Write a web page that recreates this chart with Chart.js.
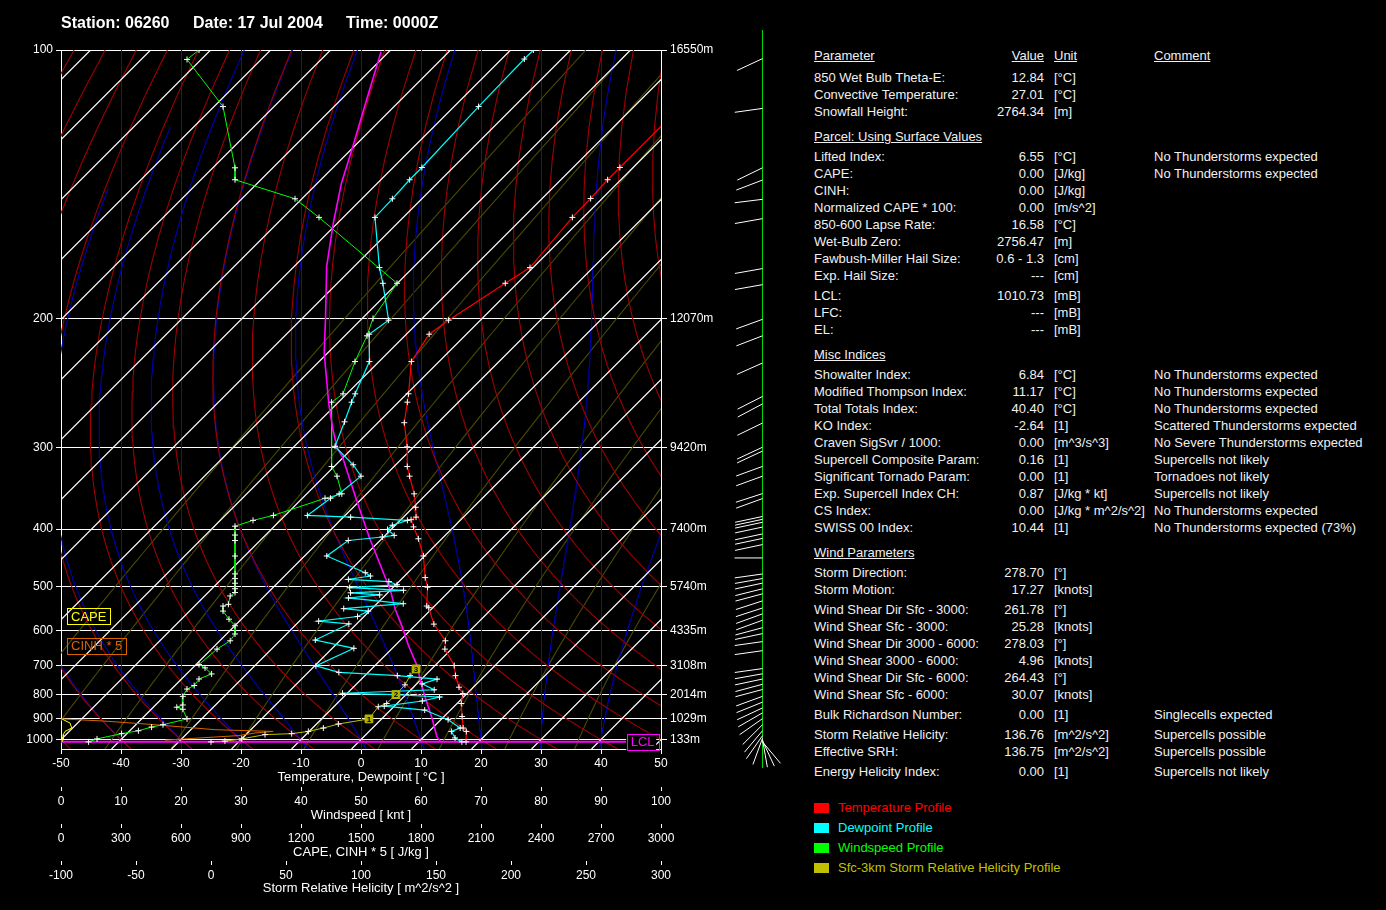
<!DOCTYPE html>
<html>
<head>
<meta charset="utf-8">
<script src="https://cdn.jsdelivr.net/npm/chart.js@4.4.0/dist/chart.umd.min.js"></script>
<style>
  body { margin: 0; background: #000; width: 1386px; height: 910px; overflow: hidden;
         font-family: "Liberation Sans", Arial, sans-serif; color: #f0f0f0; }
  #skewt { position: absolute; left: 0; top: 0; }
  .t { position: absolute; white-space: nowrap; font-size: 13px; line-height: 15px; }
  .hd { position: absolute; top: 14px; font-weight: bold; font-size: 16px; color: #fff; white-space: nowrap; }
  .u { text-decoration: underline; }
  .sw { position: absolute; width: 15px; height: 10px; }
</style>
</head>
<body>
<canvas id="skewt" width="800" height="910"></canvas>
<div class="hd" style="left:61px">Station: 06260</div>
<div class="hd" style="left:193px">Date: 17 Jul 2004</div>
<div class="hd" style="left:346px">Time: 0000Z</div>
<div id="side"></div>
<script>
// standard pressure levels [hPa] and their heights
const levels = [100, 200, 300, 400, 500, 600, 700, 800, 900, 1000];
const levelHeights = ['16550m', '12070m', '9420m', '7400m', '5740m', '4335m', '3108m', '2014m', '1029m', '133m'];

// temperature profile [hPa, °C]
const tempP = [100, 132.7, 136.9, 143.7, 151, 173, 180.8, 201, 209.5, 227.5, 251.5, 258.3, 276, 299, 319.7, 330.6,
  351.8, 369.2, 382.7, 386.3, 396.7, 414.8, 442.9, 482, 501, 541, 544.7, 583.6, 627, 650.4, 700, 733, 773.5, 797,
  835.8, 890.3, 943, 959.3, 1012];
const tempC = [-52.2, -52.2, -52.2, -51.9, -51.8, -50.5, -52.0, -55.3, -56.2, -54.6, -49.7, -48.5, -45.6, -41.1, -37.8, -35.8,
  -32.1, -29.6, -27.9, -28.3, -26.7, -23.9, -20.2, -16.3, -14.3, -11.3, -10.7, -7.1, -2.4, -1.1, 3.2, 5.1, 7.6, 9.3,
  10.7, 13.0, 15.1, 16.2, 17.9];

// dewpoint profile [hPa, °C]
const dewP = [100, 102.1, 114.2, 132.7, 136.9, 143.8, 151, 173, 180.8, 201,
  209.5, 227.5, 251.5, 258.3, 275.2, 298.5, 317.8, 330.6, 351.8, 357.4,
  380.3, 382.7, 387.3, 394.3, 400.5, 409.5, 412, 417.5, 442.9, 472.8,
  479, 485.5, 489.7, 496, 502, 507.3, 512.5, 516.8, 523.3, 535.8,
  546.9, 552.5, 565.1, 576.3, 583.2, 625.1, 648.1, 701, 721.9, 733,
  745, 761.5, 782.9, 795.8, 801.1, 810.2, 825.7, 846.5, 862.7, 904.5,
  943, 959.3, 991.6, 1012];
const dewC = [-86.2, -86.2, -85.9, -85.2, -85.2, -84.9, -84.7, -75.6, -72.4, -65.3,
  -66.2, -61.6, -58.6, -57.8, -55.7, -53.2, -47.1, -43.9, -44.6, -45.3,
  -46.3, -38.8, -28.8, -30.5, -30.6, -28.5, -30.2, -35.3, -36.3, -27.1,
  -25.7, -28.8, -21.7, -19.8, -27.2, -17.8, -26.2, -21.0, -25.7, -15.6,
  -24.7, -20.2, -21.1, -26.8, -21.3, -24.2, -16.4, -19.8, -14.9, -4.6,
  2.6, 0.9, 3.9, -10.8, -1.7, 6.0, 3.8, -1.7, 5.7, 11.2,
  14.6, 13.7, 15.4, 17.2];

// windspeed profile [hPa, knots]
const windP = [100, 102.2, 114.2, 132.8, 136.9, 143.8, 151, 180.8, 200,
  210.5, 227.5, 251.5, 258.3, 319.7, 330.6, 351.8, 357.4, 380.3, 387.3,
  395.7, 409, 417.5, 443, 475, 484, 493, 504, 511.9, 519,
  537.2, 541, 552.5, 571.6, 587.7, 608.8, 627, 650.4, 697, 707.4,
  727.3, 744.4, 767.5, 780.2, 807.6, 841.8, 850.9, 859.5, 901, 927.5,
  938.5, 956, 970.3, 996.5, 1012];
const windKt = [23.0, 21.0, 27.0, 29, 29, 39, 43.0, 56.0, 52.0,
  51.0, 49, 47.0, 45.1, 45.1, 46.0, 46.8, 44, 35.4, 32.0,
  29, 29, 29, 29, 29, 29, 29, 29, 29, 28.2,
  27.9, 27.0, 27.0, 28.0, 29, 29, 28.2, 26.0, 23.0, 24.0,
  25.1, 23.0, 22.2, 21.0, 20.3, 20.3, 19.3, 20.3, 21.0, 17.0,
  15.1, 12.9, 10.1, 6.0, 4.6];

// lifted parcel [hPa, °C]
const parcelP = [1010.7, 983.6, 890.3, 823, 756, 704, 641, 591.8, 548.4, 508, 412, 356, 308.4, 301, 282.5, 259.8,
  221.5, 200, 172.4, 153.3, 138.1, 125.9, 114.2, 100.4];
const parcelC = [13.6, 12.1, 7.9, 4.3, 0.4, -2.7, -7.7, -11.8, -16.0, -19.9, -32.4, -41.3, -50.4, -52.4, -56.3, -61.3,
  -70.6, -76.1, -84.6, -90.7, -96.0, -100.2, -104.9, -111.3];
const lclP = 1010.73;
const sfcLiftP = [1010.73, 1012];
const sfcLiftC = [13.6, 17.9];

// storm relative helicity (sfc - 3 km) [hPa, m^2/s^2]
const srhP = [1012, 1008, 996.5, 975, 970.3, 959.3, 943, 924.3, 901, 849, 835.8, 801, 765, 733, 710.7];
const srhVal = [0, 9.3, 20.5, 36, 53.8, 64.9, 74.9, 84.9, 105.3, 111.5, 117.1, 123.3, 129.3, 132.7, 136.7];
const srhKmP = [901, 801, 710.7];
const srhKmVal = [105.3, 123.3, 136.7];
const srhKmLabel = ['1', '2', '3'];

// CAPE and CINH*5 [hPa, J/kg]
const capeP = [901, 919.6, 943, 959.3, 975, 1000, 1012];
const capeVal = [3.5, 45, 53.5, 20, 11.5, 11.5, 5];
const cinhP = [901, 911, 927.5, 951, 959.3, 967, 980, 990, 1003];
const cinhVal = [3.5, 220, 470, 770, 1061, 970, 887, 720, 520];

// wind direction at the barb levels [hPa, deg]
const barbP = [102, 114.7, 132.8, 137, 144, 151.5, 173.5, 181.5, 200.5, 210.5,
  228.5, 253.6, 259.7, 276.3, 299.4, 303.3, 319.6, 330.6, 351.5, 357.8,
  381.8, 385.8, 390, 397, 407.3, 414.2, 424, 446.3, 475.2, 483.9,
  492.8, 504.2, 514.6, 529.6, 545.4, 558.9, 574.1, 592.6, 607.9, 629.3,
  654.9, 709.7, 726.9, 744.6, 763, 781.8, 807.6, 830.3, 853.9, 874.6,
  900, 927.5, 955.9, 980.2, 993, 1000, 1006, 1012];
const barbDir = [245, 262, 244, 249, 263, 260, 260, 260, 250, 249,
  246, 243, 242, 244, 245, 245, 250, 250, 252, 250,
  258, 258, 258, 258, 258, 258, 258, 270, 262, 260,
  258, 256, 255, 252, 252, 250, 250, 255, 258, 262,
  262, 262, 260, 258, 255, 255, 250, 248, 245, 240,
  235, 225, 220, 215, 200, 170, 155, 140];

// diagram background lines
const isoT = [-160, -150, -140, -130, -120, -110, -100, -90, -80, -70, -60, -50, -40, -30, -20, -10, 0, 10, 20, 30, 40, 50];
const dryT0 = [-60, -50, -40, -30, -20, -10, 0, 10, 20, 30, 40, 50, 60, 70, 80, 90, 100, 110, 120, 130, 140, 150, 160];
const moistT0 = [-40, -30, -20, -10, 0, 10, 20, 30, 40];
const mixW = [0.01, 0.03, 0.1, 0.3, 0.8, 2, 5, 10, 20, 40];

// ---- pressure axis: pixel position follows p^-0.35 ----
const P_EXP = 0.35, P_TOP = 100, P_BOT = 1050;
const tr = p => Math.pow(p, -P_EXP);
const dec = p => (tr(p) - tr(P_BOT)) / (tr(P_TOP) - tr(P_BOT));

class PressureScale extends Chart.Scale {
  determineDataLimits() {
    this.min = this.options.min;
    this.max = this.options.max;
  }
  buildTicks() {
    return levels.map(v => ({ value: v }));
  }
  configure() {
    super.configure();
    this._a = tr(this.max);
    this._b = tr(this.min);
  }
  getPixelForValue(v) {
    return this.getPixelForDecimal((tr(v) - this._a) / (this._b - this._a));
  }
  getValueForPixel(px) {
    return Math.pow(this._a + this.getDecimalForPixel(px) * (this._b - this._a), -1 / P_EXP);
  }
  getLabelForValue(v) { return String(v); }
}
PressureScale.id = 'pressure';
PressureScale.defaults = {};
Chart.register(PressureScale);

// skew: plot is 699 px high and 6 px per °C, isotherms run at 45° and meet the axis at 1000 hPa
const SKEW = 699 / 6;
const skewX = (t, p) => t + SKEW * (dec(p) - dec(1000));
const skewed = (ps, ts) => ps.map((p, i) => ({ x: skewX(ts[i], p), y: p }));
const plain = (ps, vs) => ps.map((p, i) => ({ x: vs[i], y: p }));

const refP = [];
for (let p = 1050; p >= 100; p -= 10) refP.push(p);

function moistLapse(T, p) {
  const tc = T - 273.15;
  const es = 6.112 * Math.exp(17.67 * tc / (tc + 243.5));
  const rs = 0.622 * es / (p - es);
  const Lv = 2.501e6, Rd = 287.04;
  return (Rd * T + Lv * rs) / (p * (1005.7 + Lv * Lv * rs * 0.622 / (Rd * T * T)));
}
function moistLine(t0) {
  let T = t0 + 273.15;
  for (let q = 1000; q < 1050; q += 5) {
    const k1 = moistLapse(T, q), k2 = moistLapse(T + k1 * 5, q + 5);
    T += (k1 + k2) / 2 * 5;
  }
  const out = [];
  for (let q = 1050; q >= 100; q -= 5) {
    if (T - 273.15 < -135) break;
    out.push({ x: skewX(T - 273.15, q), y: q });
    const k1 = moistLapse(T, q), k2 = moistLapse(T - k1 * 5, q - 5);
    T -= (k1 + k2) / 2 * 5;
  }
  return out;
}
const dryLine = t0 => refP.map(p => ({ x: skewX((t0 + 273.15) * Math.pow(p / 1000, 0.2857) - 273.15, p), y: p }));
const mixLine = w => refP.map(p => {
  const l = Math.log(w * p / (622 + w) / 6.112);
  return { x: skewX(243.5 * l / (17.67 - l), p), y: p };
});
const isoLine = t => [{ x: skewX(t, P_BOT), y: P_BOT }, { x: skewX(t, P_TOP), y: P_TOP }];

function line(data, color, width, extra) {
  return Object.assign({ data, borderColor: color, borderWidth: width, showLine: true, pointRadius: 0,
    xAxisID: 'xT', yAxisID: 'y', fill: false }, extra || {});
}
const marks = { pointRadius: 3, pointStyle: 'cross', pointBorderColor: '#fff', pointBackgroundColor: '#fff', pointBorderWidth: 1 };

const datasets = [
  { data: plain(srhKmP, srhKmVal), xAxisID: 'xH', yAxisID: 'y', showLine: false, pointStyle: 'rect',
    pointRadius: 5.5, pointBackgroundColor: '#b4b400', pointBorderColor: '#b4b400' },
  line(skewed(tempP, tempC), '#ff0000', 1.2, marks),
  line(skewed(dewP, dewC), '#00ffff', 1.2, marks),
  line(skewed(parcelP, parcelC), '#ff00ff', 1.6),
  line(plain(windP, windKt), '#00ff00', 1, Object.assign({ xAxisID: 'xW' }, marks)),
  line(plain(srhP, srhVal), '#c0c000', 1, Object.assign({ xAxisID: 'xH' }, marks)),
  line(plain(capeP, capeVal), '#ffff00', 1, { xAxisID: 'xC' }),
  line(plain(cinhP, cinhVal), '#d86400', 1, { xAxisID: 'xC' }),
  line([{ x: -50, y: lclP }, { x: 44.2, y: lclP }], '#ff00ff', 2),
  line(skewed(sfcLiftP, sfcLiftC), '#ff0000', 1),
];
isoT.forEach(t => datasets.push(line(isoLine(t), '#ffffff', 1.2)));
dryT0.forEach(t => datasets.push(line(dryLine(t), '#a00000', 1.1)));
moistT0.forEach(t => datasets.push(line(moistLine(t), '#0000b4', 1.1)));
mixW.forEach(w => datasets.push(line(mixLine(w), '#4a4a00', 1.1)));

function keyBox(ctx, text, x, y, color) {
  const w = ctx.measureText(text).width + 8;
  ctx.strokeStyle = color;
  ctx.fillStyle = color;
  ctx.lineWidth = 1;
  ctx.strokeRect(Math.round(x) + 0.5, Math.round(y - 8) + 0.5, Math.round(w), 16);
  ctx.fillText(text, x + 4, y + 0.5);
}

const overlay = {
  id: 'overlay',
  afterDatasetsDraw(chart) {
    const { ctx, chartArea: a, scales } = chart;
    ctx.save();
    ctx.font = '13px "Liberation Sans", Arial, sans-serif';
    ctx.textBaseline = 'middle';
    ctx.textAlign = 'left';
    keyBox(ctx, 'CAPE', a.left + 6, scales.y.getPixelForValue(565), '#ffff00');
    keyBox(ctx, 'CINH * 5', a.left + 6, scales.y.getPixelForValue(641), '#d86400');
    // LCL tag at the end of the LCL line
    const lx = scales.xT.getPixelForValue(44.2), ly = scales.y.getPixelForValue(lclP);
    ctx.fillStyle = '#000';
    ctx.fillRect(lx, ly - 9, 30, 18);
    keyBox(ctx, 'LCL', lx + 0.5, ly, '#ff00ff');
    // 1, 2, 3 km marks on the helicity profile
    ctx.font = 'bold 8px "Liberation Sans", Arial, sans-serif';
    ctx.textAlign = 'center';
    ctx.fillStyle = '#000';
    chart.getDatasetMeta(0).data.forEach((pt, i) => ctx.fillText(srhKmLabel[i], pt.x, pt.y + 0.5));
    ctx.restore();
  },
  afterDraw(chart) {
    const { ctx, chartArea: a, scales } = chart;
    const sx = Math.round(a.right + 101) + 0.5;
    ctx.save();
    ctx.lineWidth = 1;
    ctx.strokeStyle = '#00d800';
    ctx.beginPath();
    ctx.moveTo(sx, a.top - 20);
    ctx.lineTo(sx, a.bottom + 19);
    ctx.stroke();
    ctx.strokeStyle = '#fff';
    barbP.forEach((p, i) => {
      const py = scales.y.getPixelForValue(p), r = barbDir[i] * Math.PI / 180;
      ctx.beginPath();
      ctx.moveTo(sx, py);
      ctx.lineTo(sx + 28 * Math.sin(r), py - 28 * Math.cos(r));
      ctx.stroke();
    });
    ctx.restore();
  }
};

Chart.defaults.font.family = '"Liberation Sans", Arial, sans-serif';
Chart.defaults.font.size = 12;
Chart.defaults.color = '#fff';

function bottomAxis(min, max, step, title, weight, height, padBottom, first) {
  return {
    type: 'linear', position: 'bottom', min, max, weight,
    ticks: { stepSize: step, color: '#fff', padding: first ? 2 : 3, autoSkip: false, maxRotation: 0,
      callback: v => String(v) },
    grid: first ? { color: '#003a00', tickColor: '#fff', tickLength: 5 }
                : { drawOnChartArea: false, color: '#fff', tickLength: 4 },
    border: first ? { color: '#fff' } : { display: false },
    title: { display: true, text: title, color: '#fff', font: { size: 13 }, padding: { top: 0, bottom: padBottom } },
    afterFit: s => { s.height = height; }
  };
}

new Chart(document.getElementById('skewt'), {
  type: 'scatter',
  data: { datasets },
  options: {
    responsive: false,
    animation: false,
    events: [],
    layout: { padding: { top: 50, bottom: 12, left: 0, right: 0 } },
    plugins: { legend: { display: false }, tooltip: { enabled: false } },
    scales: {
      y: {
        type: 'pressure', position: 'left', min: P_TOP, max: P_BOT,
        grid: { color: '#fff', tickLength: 5 },
        border: { color: '#fff' },
        ticks: { color: '#fff', padding: 3, autoSkip: false, callback: v => String(v) },
        afterFit: s => { s.width = 61; }
      },
      yR: {
        type: 'pressure', position: 'right', min: P_TOP, max: P_BOT,
        grid: { drawOnChartArea: false, color: '#fff', tickLength: 6 },
        border: { color: '#fff' },
        ticks: { color: '#fff', padding: 3, autoSkip: false, callback: v => levelHeights[levels.indexOf(v)] },
        afterFit: s => { s.width = 139; }
      },
      xT: bottomAxis(-50, 50, 10, 'Temperature, Dewpoint [ °C ]', 0, 38, 2.2, true),
      xW: bottomAxis(0, 100, 10, 'Windspeed [ knt ]', 1, 37, 1.2, false),
      xC: bottomAxis(0, 3000, 300, 'CAPE, CINH * 5 [ J/kg ]', 2, 37, 1.2, false),
      xH: bottomAxis(-100, 300, 50, 'Storm Relative Helicity [ m^2/s^2 ]', 3, 37, 2.2, false)
    }
  },
  plugins: [overlay]
});

// ---- parameter table and legend ----
const tableRows = [
  [56, 'Parameter', 'Value', 'Unit', 'Comment', 'h'],
  [78, '850 Wet Bulb Theta-E:', '12.84', '[°C]', ''],
  [95, 'Convective Temperature:', '27.01', '[°C]', ''],
  [112, 'Snowfall Height:', '2764.34', '[m]', ''],
  [137, 'Parcel: Using Surface Values', '', '', '', 's'],
  [157, 'Lifted Index:', '6.55', '[°C]', 'No Thunderstorms expected'],
  [174, 'CAPE:', '0.00', '[J/kg]', 'No Thunderstorms expected'],
  [191, 'CINH:', '0.00', '[J/kg]', ''],
  [208, 'Normalized CAPE * 100:', '0.00', '[m/s^2]', ''],
  [225, '850-600 Lapse Rate:', '16.58', '[°C]', ''],
  [242, 'Wet-Bulb Zero:', '2756.47', '[m]', ''],
  [259, 'Fawbush-Miller Hail Size:', '0.6 - 1.3', '[cm]', ''],
  [276, 'Exp. Hail Size:', '---', '[cm]', ''],
  [296, 'LCL:', '1010.73', '[mB]', ''],
  [313, 'LFC:', '---', '[mB]', ''],
  [330, 'EL:', '---', '[mB]', ''],
  [355, 'Misc Indices', '', '', '', 's'],
  [375, 'Showalter Index:', '6.84', '[°C]', 'No Thunderstorms expected'],
  [392, 'Modified Thompson Index:', '11.17', '[°C]', 'No Thunderstorms expected'],
  [409, 'Total Totals Index:', '40.40', '[°C]', 'No Thunderstorms expected'],
  [426, 'KO Index:', '-2.64', '[1]', 'Scattered Thunderstorms expected'],
  [443, 'Craven SigSvr / 1000:', '0.00', '[m^3/s^3]', 'No Severe Thunderstorms expected'],
  [460, 'Supercell Composite Param:', '0.16', '[1]', 'Supercells not likely'],
  [477, 'Significant Tornado Param:', '0.00', '[1]', 'Tornadoes not likely'],
  [494, 'Exp. Supercell Index CH:', '0.87', '[J/kg * kt]', 'Supercells not likely'],
  [511, 'CS Index:', '0.00', '[J/kg * m^2/s^2]', 'No Thunderstorms expected'],
  [528, 'SWISS 00 Index:', '10.44', '[1]', 'No Thunderstorms expected (73%)'],
  [553, 'Wind Parameters', '', '', '', 's'],
  [573, 'Storm Direction:', '278.70', '[°]', ''],
  [590, 'Storm Motion:', '17.27', '[knots]', ''],
  [610, 'Wind Shear Dir Sfc - 3000:', '261.78', '[°]', ''],
  [627, 'Wind Shear Sfc - 3000:', '25.28', '[knots]', ''],
  [644, 'Wind Shear Dir 3000 - 6000:', '278.03', '[°]', ''],
  [661, 'Wind Shear 3000 - 6000:', '4.96', '[knots]', ''],
  [678, 'Wind Shear Dir Sfc - 6000:', '264.43', '[°]', ''],
  [695, 'Wind Shear Sfc - 6000:', '30.07', '[knots]', ''],
  [715, 'Bulk Richardson Number:', '0.00', '[1]', 'Singlecells expected'],
  [735, 'Storm Relative Helicity:', '136.76', '[m^2/s^2]', 'Supercells possible'],
  [752, 'Effective SRH:', '136.75', '[m^2/s^2]', 'Supercells possible'],
  [772, 'Energy Helicity Index:', '0.00', '[1]', 'Supercells not likely']
];
const legendItems = [
  ['Temperature Profile', '#ff0000'],
  ['Dewpoint Profile', '#00ffff'],
  ['Windspeed Profile', '#00ff00'],
  ['Sfc-3km Storm Relative Helicity Profile', '#c0c000']
];

const side = document.getElementById('side');
function put(text, left, top, cls, extra) {
  const d = document.createElement('div');
  d.className = 't' + (cls ? ' ' + cls : '');
  d.textContent = text;
  d.style.left = left + 'px';
  d.style.top = top + 'px';
  if (extra) Object.assign(d.style, extra);
  side.appendChild(d);
}
tableRows.forEach(([y, label, value, unit, comment, kind]) => {
  const top = y - 8;
  const cls = kind ? 'u' : '';
  put(label, 814, top, cls);
  if (value) put(value, 944, top, cls, { width: '100px', textAlign: 'right' });
  if (unit) put(unit, 1054, top, cls);
  if (comment) put(comment, 1154, top, cls);
});
legendItems.forEach(([text, color], i) => {
  const y = 808 + i * 20;
  const sw = document.createElement('div');
  sw.className = 'sw';
  sw.style.left = '814px';
  sw.style.top = (y - 5) + 'px';
  sw.style.background = color;
  side.appendChild(sw);
  put(text, 838, y - 8, '', { color });
});
</script>
</body>
</html>
